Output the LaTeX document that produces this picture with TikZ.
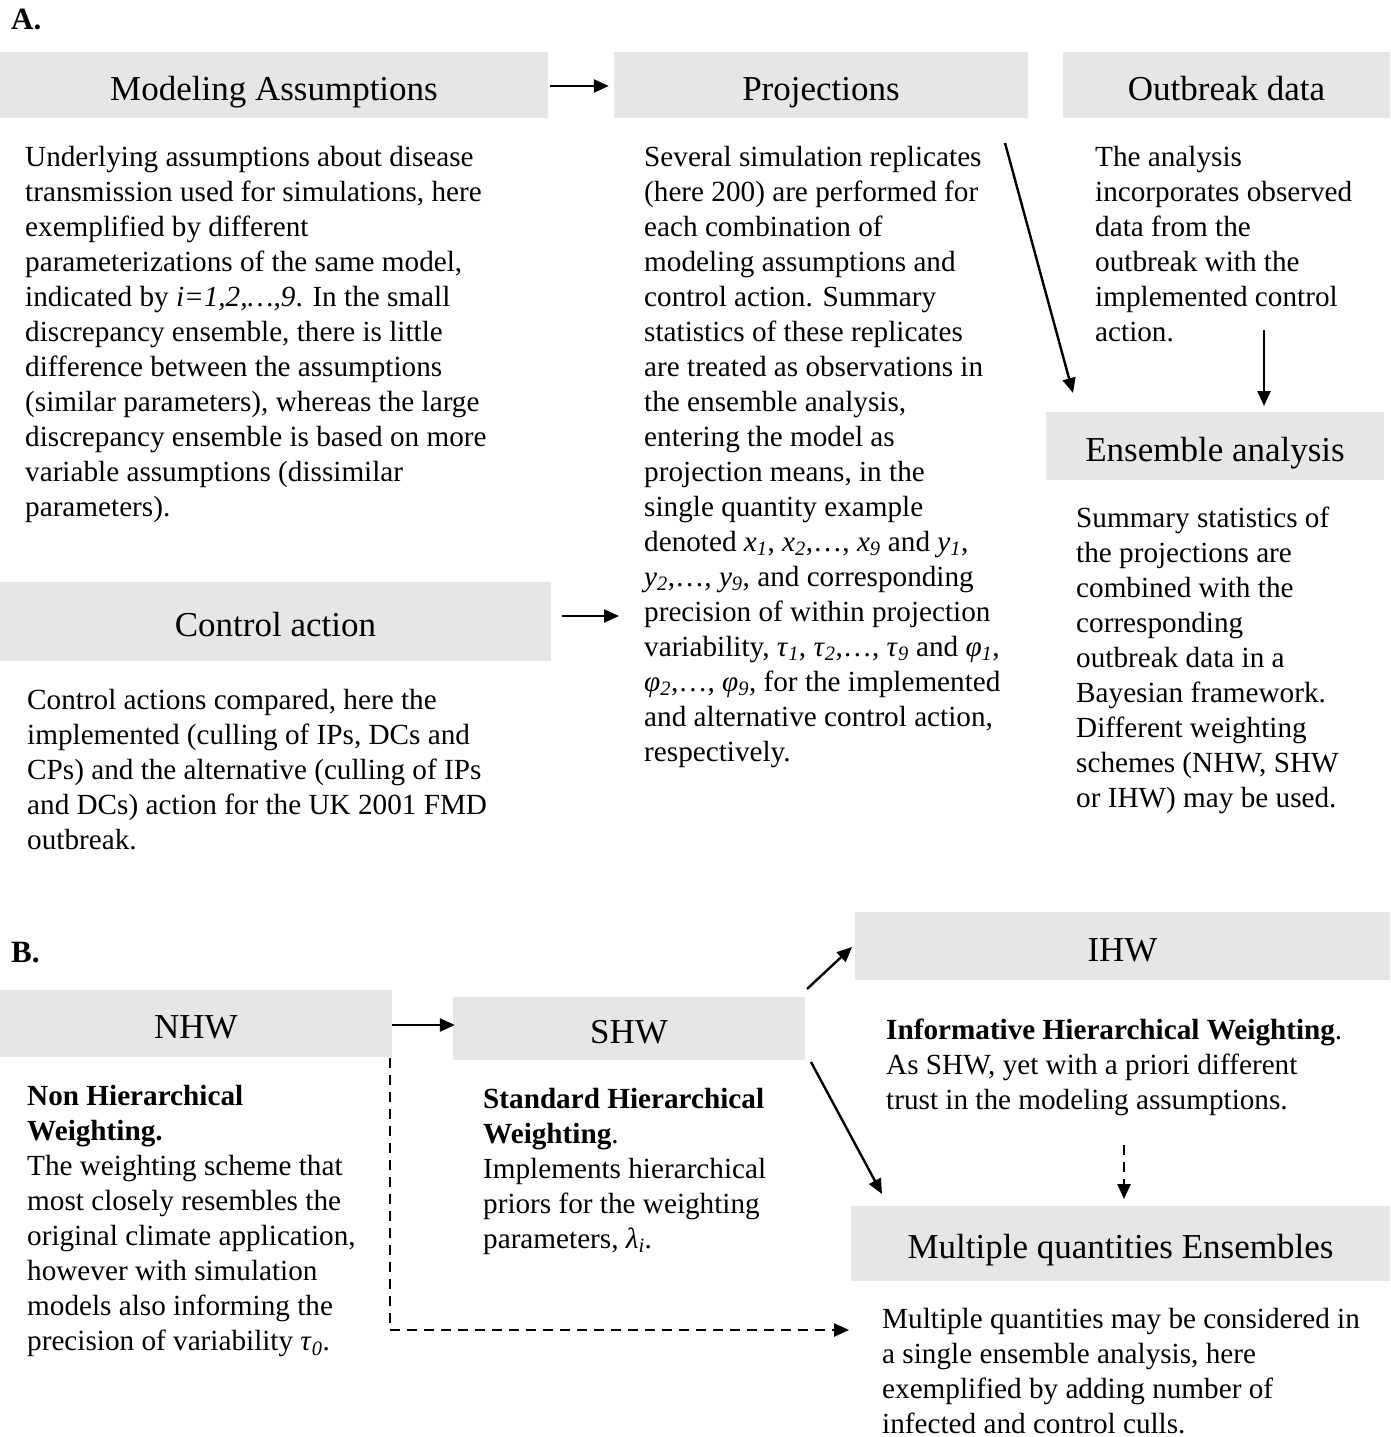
\documentclass[tikz,border=0pt]{standalone}
\usepackage{fontspec}
\setmainfont{Liberation Serif}
\usetikzlibrary{arrows.meta}
\definecolor{boxgray}{RGB}{230,230,230}
\newcommand{\sv}[2]{\textit{#1}\textsubscript{\textit{#2}}}
\newcommand{\bodyfont}{\fontsize{29.2}{35}\selectfont}
\newcommand{\titlefont}{\fontsize{35}{40}\selectfont}
\newcommand{\blk}[1]{\begin{tabular}[t]{@{}l@{}}#1\end{tabular}}
\tikzset{
  box/.style={rectangle, fill=boxgray, draw=none, inner sep=0pt, font=\titlefont, text height=30pt, text depth=0pt},
  body/.style={anchor=base west, inner sep=0pt, font=\bodyfont},
  arr/.style={line width=2.4pt, -{Triangle[length=15pt,width=13pt]}},
  darr/.style={arr, dash pattern=on 10pt off 7pt},
  panel/.style={anchor=base west, inner sep=0pt, font=\fontsize{31}{36}\selectfont\bfseries}
}
\begin{document}
\begin{tikzpicture}[x=1pt,y=-1pt]
\useasboundingbox (0,0) rectangle (1390,1437);
\fill[white] (0,0) rectangle (1390,1437);

% panel labels
\node[panel] (A) at (11,30) {A.};
\node[panel] (B) at (11,962) {B.};

% boxes panel A
\node[box, minimum width=548pt, minimum height=66pt] (ma) at (274,85) {Modeling Assumptions};
\node[box, minimum width=414pt, minimum height=66pt] (pr) at (821,85) {Projections};
\node[box, minimum width=327pt, minimum height=66pt] (ob) at (1226.5,85) {Outbreak data};
\node[box, minimum width=551pt, minimum height=79pt] (ca) at (275.5,621.5) {Control action};
\node[box, minimum width=338pt, minimum height=68pt] (ea) at (1215,446) {Ensemble analysis};

% boxes panel B
\node[box, minimum width=392pt, minimum height=67pt] (nhw) at (196,1023.5) {NHW};
\node[box, minimum width=352pt, minimum height=63pt] (shw) at (629,1028.5) {SHW};
\node[box, minimum width=535pt, minimum height=68pt] (ihw) at (1122.5,946) {IHW};
\node[box, minimum width=539pt, minimum height=75pt] (mqe) at (1120.5,1243.5) {Multiple quantities Ensembles};

% body texts panel A
\node[body] (mab) at (25,166) {\blk{Underlying assumptions about disease\\
transmission used for simulations, here\\
exemplified by different\\
parameterizations of the same model,\\
indicated by \textit{i=1,2,…,9}. In the small\\
discrepancy ensemble, there is little\\
difference between the assumptions\\
(similar parameters), whereas the large\\
discrepancy ensemble is based on more\\
variable assumptions (dissimilar\\
parameters).}};

\node[body] (prb) at (644,166) {\blk{Several simulation replicates\\
(here 200) are performed for\\
each combination of\\
modeling assumptions and\\
control action. Summary\\
statistics of these replicates\\
are treated as observations in\\
the ensemble analysis,\\
entering the model as\\
projection means, in the\\
single quantity example\\
denoted \sv{x}{1}, \sv{x}{2},…, \sv{x}{9} and \sv{y}{1},\\
\sv{y}{2},…, \sv{y}{9}, and corresponding\\
precision of within projection\\
variability, \sv{τ}{1}, \sv{τ}{2},…, \sv{τ}{9} and \sv{φ}{1},\\
\sv{φ}{2},…, \sv{φ}{9}, for the implemented\\
and alternative control action,\\
respectively.}};

\node[body] (obb) at (1095,166) {\blk{The analysis\\
incorporates observed\\
data from the\\
outbreak with the\\
implemented control\\
action.}};

\node[body] (eab) at (1076,527) {\blk{Summary statistics of\\
the projections are\\
combined with the\\
corresponding\\
outbreak data in a\\
Bayesian framework.\\
Different weighting\\
schemes (NHW, SHW\\
or IHW) may be used.}};

\node[body] (cab) at (27,709) {\blk{Control actions compared, here the\\
implemented (culling of IPs, DCs and\\
CPs) and the alternative (culling of IPs\\
and DCs) action for the UK 2001 FMD\\
outbreak.}};

% body texts panel B
\node[body] (nhwb) at (27,1105) {\blk{\textbf{Non Hierarchical}\\
\textbf{Weighting.}\\
The weighting scheme that\\
most closely resembles the\\
original climate application,\\
however with simulation\\
models also informing the\\
precision of variability \sv{τ}{0}.}};

\node[body] (shwb) at (483,1108) {\blk{\textbf{Standard Hierarchical}\\
\textbf{Weighting}.\\
Implements hierarchical\\
priors for the weighting\\
parameters, \sv{λ}{i}.}};

\node[body] (ihwb) at (886,1039) {\blk{\textbf{Informative Hierarchical Weighting}.\\
As SHW, yet with a priori different\\
trust in the modeling assumptions.}};

\node[body] (mqeb) at (882,1328) {\blk{Multiple quantities may be considered in\\
a single ensemble analysis, here\\
exemplified by adding number of\\
infected and control culls.}};

% connector helper coordinates
\coordinate (caEnd) at (619,616);
\coordinate (prStart) at (1005,143);
\coordinate (eaEnd) at (1073,393);
\coordinate (obStart) at (1264,330);
\coordinate (eaTop) at (1264,406);
\coordinate (shwUp) at (807,989);
\coordinate (ihwEnd) at (852,947);
\coordinate (shwDown) at (811,1062);
\coordinate (mqeEnd) at (882,1194);
\coordinate (ihwDash) at (1124,1145);
\coordinate (mqeTop) at (1124,1199);
\coordinate (nhwDash) at (390,1058);
\coordinate (nhwCorner) at (390,1330);
\coordinate (mqeLeft) at (849,1330);

% arrows panel A
\draw[arr] ([xshift=2pt,yshift=-1pt]ma.east) -- ([xshift=-5pt,yshift=-1pt]pr.west);
\draw[arr] ([xshift=11pt,yshift=5.5pt]ca.east) -- (caEnd);
\draw[arr] (prStart) -- (eaEnd);
\draw[arr] (obStart) -- (eaTop);

% arrows panel B
\draw[arr] ([yshift=-1.5pt]nhw.east) -- ([xshift=2pt,yshift=3.5pt]shw.west);
\draw[arr] (shwUp) -- (ihwEnd);
\draw[arr] (shwDown) -- (mqeEnd);
\draw[darr] (ihwDash) -- (mqeTop);
\draw[darr] (nhwDash) -- (nhwCorner) -- (mqeLeft);
\end{tikzpicture}
\end{document}
